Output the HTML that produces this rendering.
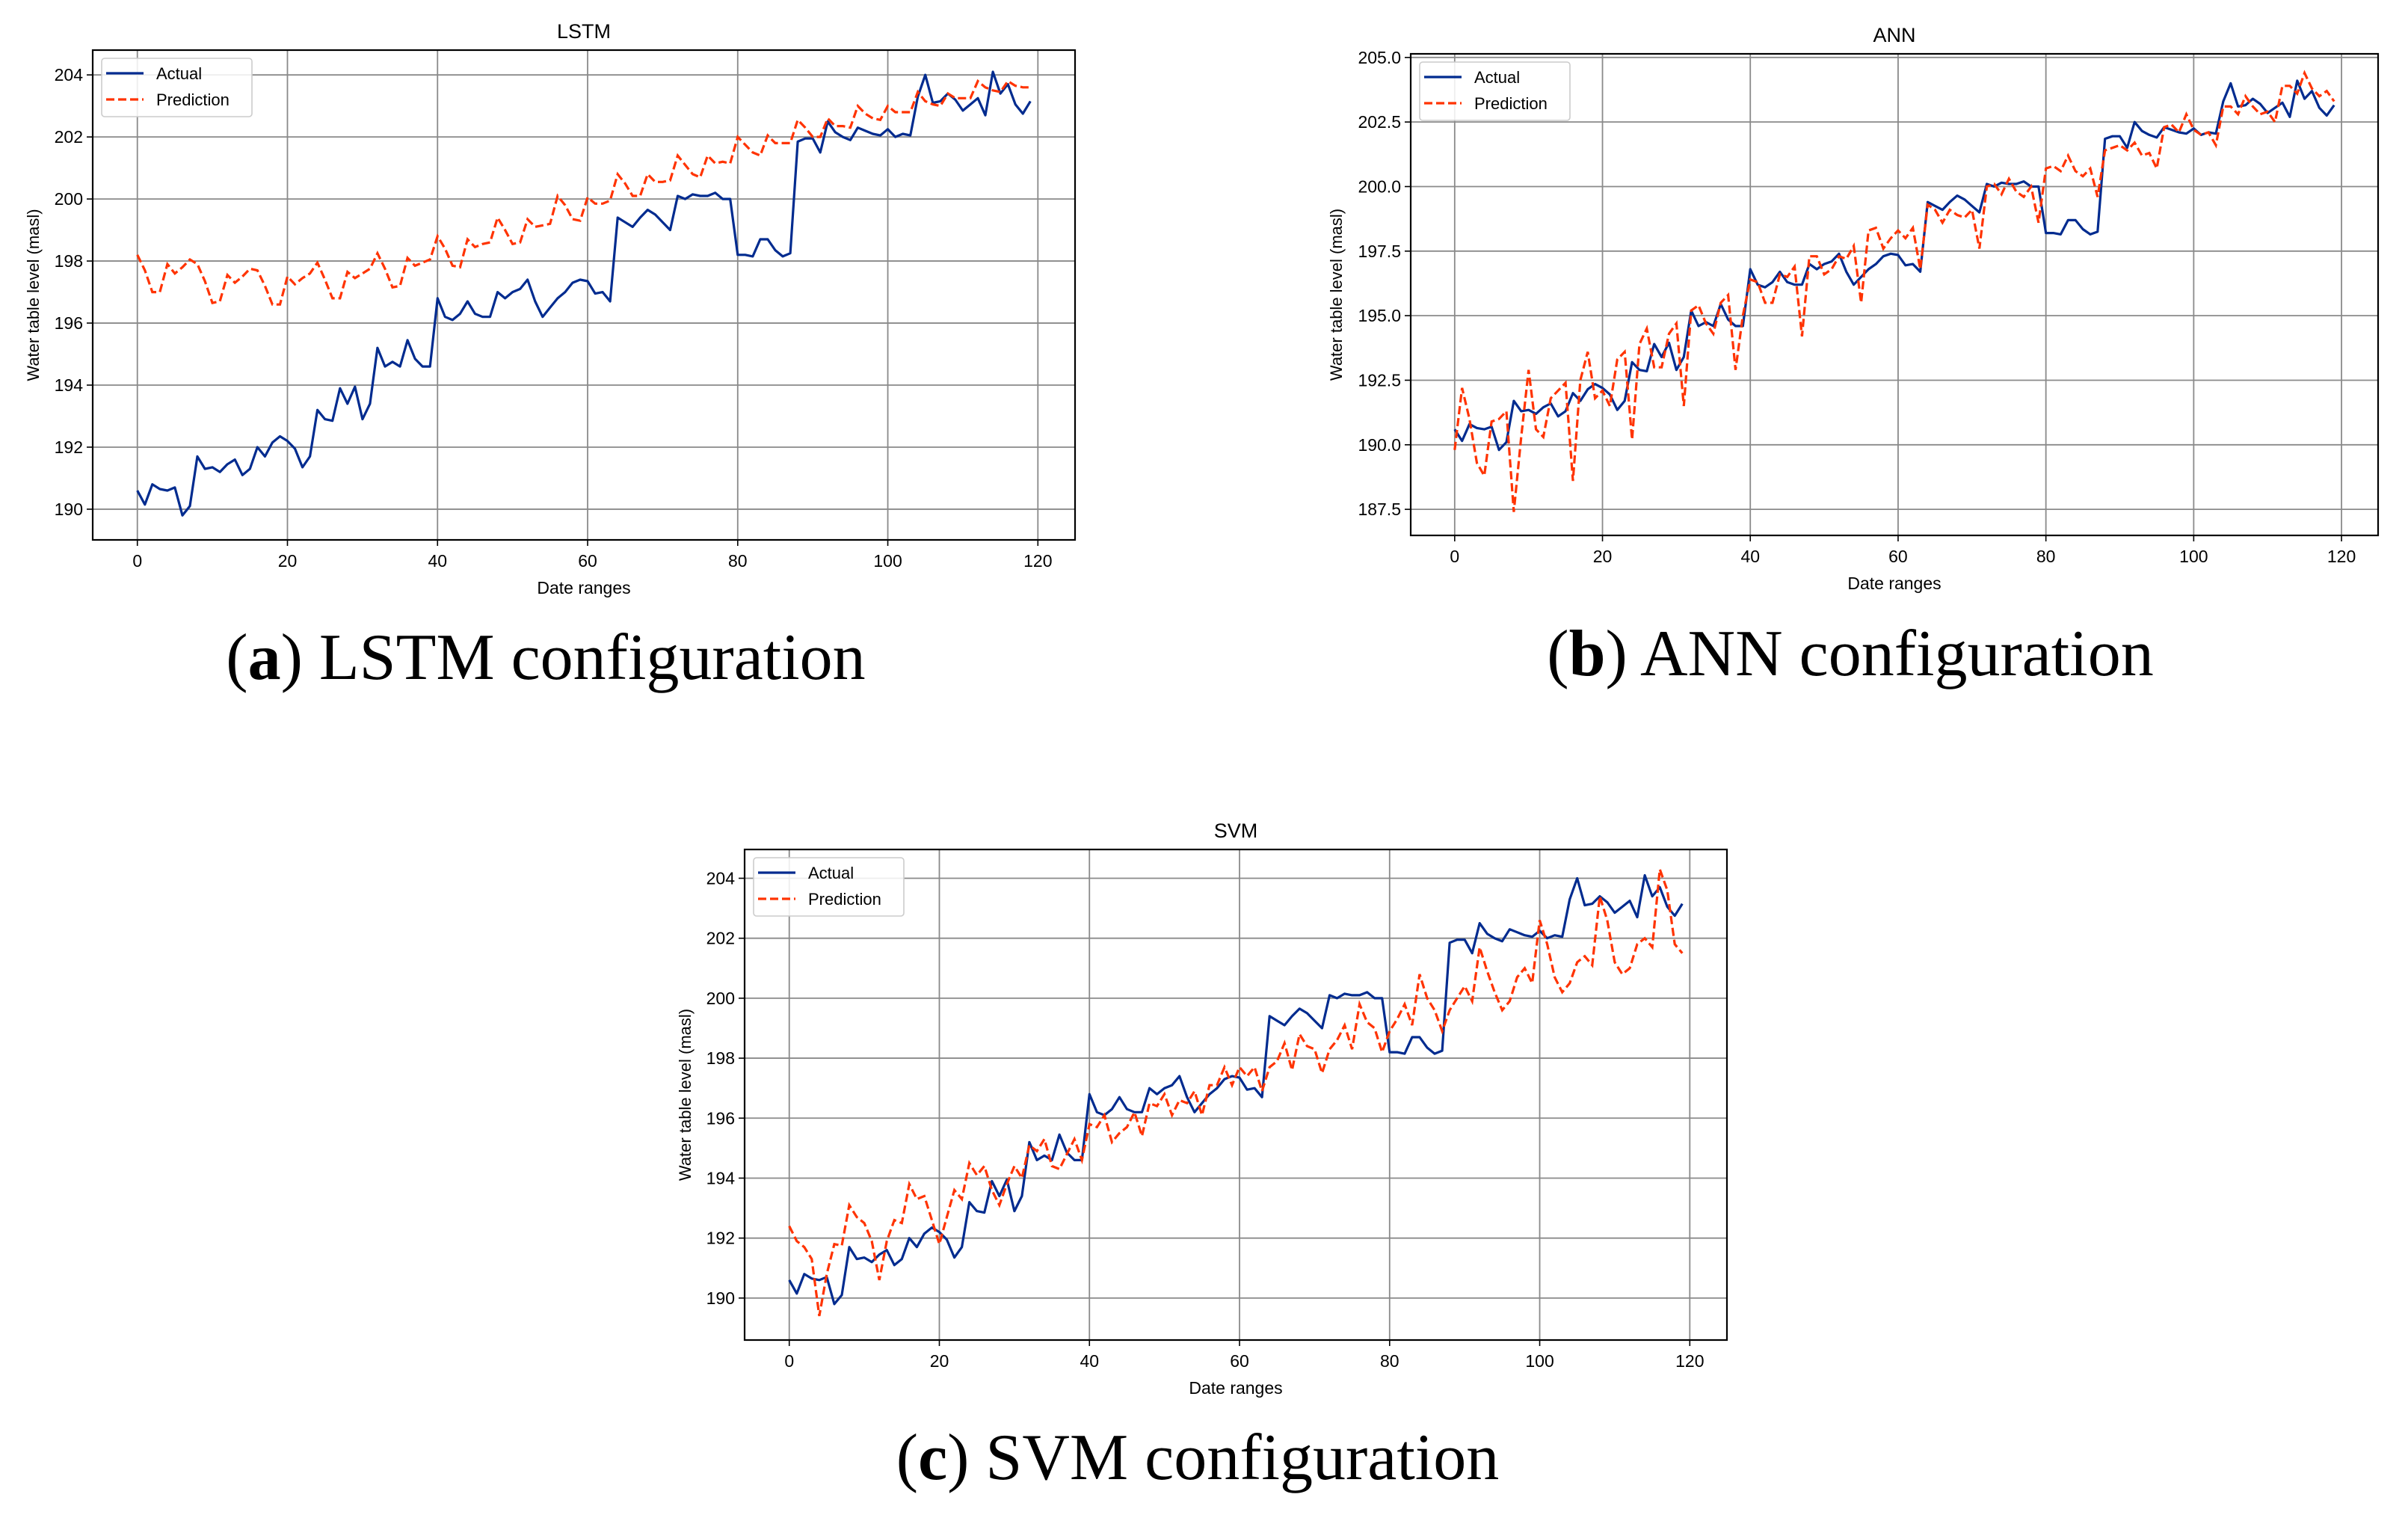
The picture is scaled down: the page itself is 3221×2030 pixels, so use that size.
<!DOCTYPE html>
<html><head><meta charset="utf-8">
<style>
html,body{margin:0;padding:0;background:#fff;}
svg{display:block;}
text{font-family:"Liberation Sans",sans-serif;fill:#000;}
.cap{font-family:"Liberation Serif",serif;font-size:88px;}
</style></head>
<body>
<svg id="fig" width="3221" height="2030" viewBox="0 0 3221 2030" xmlns="http://www.w3.org/2000/svg">
<text class="cap" x="730" y="908" text-anchor="middle">(<tspan font-weight="bold">a</tspan>) LSTM configuration</text>
<text class="cap" x="2475" y="903" text-anchor="middle">(<tspan font-weight="bold">b</tspan>) ANN configuration</text>
<text class="cap" x="1602" y="1978" text-anchor="middle">(<tspan font-weight="bold">c</tspan>) SVM configuration</text>
</svg>
<script>
const xTicks = [0, 20, 40, 60, 80, 100, 120];
const lstmYTicks = [190, 192, 194, 196, 198, 200, 202, 204];
const annYTicks = [187.5, 190.0, 192.5, 195.0, 197.5, 200.0, 202.5, 205.0];
const svmYTicks = [190, 192, 194, 196, 198, 200, 202, 204];
const actual = [190.6,190.15,190.8,190.65,190.6,190.7,189.8,190.1,191.7,191.3,191.35,191.2,191.45,191.6,191.1,191.3,192.0,191.7,192.15,192.35,192.2,191.95,191.35,191.7,193.2,192.9,192.85,193.9,193.4,193.95,192.9,193.4,195.2,194.6,194.75,194.6,195.45,194.85,194.6,194.6,196.8,196.2,196.1,196.3,196.7,196.3,196.2,196.2,197.0,196.8,197.0,197.1,197.4,196.7,196.2,196.5,196.8,197.0,197.3,197.4,197.35,196.95,197.0,196.7,199.4,199.25,199.1,199.4,199.65,199.5,199.25,199.0,200.1,200.0,200.15,200.1,200.1,200.2,200.0,200.0,198.2,198.2,198.15,198.7,198.7,198.35,198.15,198.25,201.85,201.95,201.95,201.5,202.5,202.15,202.0,201.9,202.3,202.2,202.1,202.05,202.25,202.0,202.1,202.05,203.3,204.0,203.1,203.15,203.4,203.2,202.85,203.05,203.25,202.7,204.1,203.4,203.7,203.05,202.75,203.15];
const lstmPred = [198.2,197.7,197.0,197.0,197.9,197.6,197.8,198.05,197.9,197.35,196.65,196.7,197.55,197.3,197.5,197.75,197.7,197.2,196.6,196.6,197.5,197.25,197.45,197.6,197.95,197.4,196.8,196.8,197.65,197.45,197.6,197.75,198.25,197.75,197.15,197.2,198.1,197.85,197.95,198.05,198.8,198.4,197.85,197.8,198.7,198.45,198.55,198.6,199.4,199.0,198.55,198.6,199.35,199.1,199.15,199.2,200.1,199.8,199.35,199.3,200.05,199.85,199.85,199.95,200.8,200.5,200.1,200.1,200.8,200.55,200.55,200.6,201.4,201.1,200.8,200.7,201.4,201.15,201.2,201.15,202.0,201.75,201.5,201.4,202.05,201.8,201.8,201.8,202.55,202.3,202.0,202.0,202.6,202.35,202.35,202.3,203.0,202.75,202.6,202.55,203.0,202.8,202.8,202.8,203.45,203.15,203.05,203.0,203.4,203.25,203.25,203.25,203.8,203.6,203.5,203.45,203.8,203.65,203.6,203.6];
const annPred = [189.8,192.2,191.0,189.3,188.8,190.9,191.0,191.3,187.4,190.3,192.9,190.6,190.3,191.8,192.1,192.4,188.6,192.5,193.6,191.8,192.1,191.5,193.3,193.6,190.2,193.9,194.5,193.0,193.0,194.3,194.7,191.5,195.2,195.4,194.7,194.3,195.5,195.8,192.9,195.0,196.4,196.3,195.5,195.5,196.6,196.5,196.9,194.2,197.3,197.3,196.6,196.8,197.3,197.2,197.7,195.5,198.3,198.4,197.6,198.0,198.3,198.0,198.4,196.8,199.3,199.1,198.6,199.1,198.9,198.8,199.1,197.6,200.0,200.1,199.7,200.3,199.8,199.6,200.0,198.6,200.7,200.8,200.6,201.2,200.6,200.4,200.7,199.6,201.4,201.5,201.6,201.4,201.7,201.2,201.3,200.7,202.3,202.4,202.1,202.8,202.2,202.0,202.1,201.6,203.1,203.1,202.8,203.5,203.1,202.8,202.9,202.5,203.9,203.9,203.6,204.4,203.8,203.5,203.7,203.3];
const svmPred = [192.4,191.9,191.7,191.3,189.4,190.8,191.8,191.75,193.1,192.7,192.5,191.9,190.6,191.9,192.6,192.5,193.8,193.3,193.4,192.6,191.8,192.7,193.6,193.3,194.5,194.1,194.4,193.6,193.1,193.8,194.4,194.0,195.1,194.9,195.3,194.4,194.3,194.8,195.3,194.6,195.8,195.7,196.1,195.2,195.5,195.7,196.2,195.4,196.5,196.4,196.8,196.1,196.6,196.5,196.9,196.1,197.1,197.1,197.7,197.1,197.7,197.4,197.7,196.9,197.7,197.9,198.5,197.6,198.8,198.4,198.3,197.5,198.3,198.6,199.1,198.3,199.8,199.2,199.0,198.2,198.9,199.3,199.8,199.1,200.8,200.0,199.6,198.9,199.6,200.0,200.4,199.9,201.7,200.9,200.2,199.6,199.9,200.7,201.0,200.5,202.6,201.8,200.7,200.2,200.5,201.2,201.4,201.1,203.4,202.6,201.2,200.8,201.0,201.8,202.0,201.7,204.3,203.6,201.8,201.5];

const NS = "http://www.w3.org/2000/svg";
const fig = document.getElementById('fig');
function mk(tag, attrs, parent) {
  const e = document.createElementNS(NS, tag);
  for (const k in attrs) e.setAttribute(k, attrs[k]);
  parent.appendChild(e);
  return e;
}
function drawChart(id, title, box, yMin, yMax, yTicks, yFmt, pred) {
  const g = mk('g', {}, fig);
  
  
  const xMin = -5.95, xMax = 124.95;
  const X = v => box.l + (v - xMin) / (xMax - xMin) * (box.r - box.l);
  const Y = v => box.b - (v - yMin) / (yMax - yMin) * (box.b - box.t);
  xTicks.forEach(t => {
    const gl = mk('line', {x1: X(t), x2: X(t), y1: box.t, y2: box.b, stroke: '#8a8a8a', 'stroke-width': 1.8}, g);
    
    
    const tk = mk('line', {x1: X(t), x2: X(t), y1: box.b, y2: box.b + 8, stroke: '#000', 'stroke-width': 1.6}, g);
    
    
    const tl = mk('text', {x: X(t), y: box.b + 36, 'font-size': 23, 'text-anchor': 'middle'}, g);
    tl.textContent = t;
    
    
  });
  yTicks.forEach(t => {
    const gl = mk('line', {x1: box.l, x2: box.r, y1: Y(t), y2: Y(t), stroke: '#8a8a8a', 'stroke-width': 1.8}, g);
    
    
    const tk = mk('line', {x1: box.l - 8, x2: box.l, y1: Y(t), y2: Y(t), stroke: '#000', 'stroke-width': 1.6}, g);
    
    
    const tl = mk('text', {x: box.l - 13, y: Y(t) + 8, 'font-size': 23, 'text-anchor': 'end'}, g);
    tl.textContent = yFmt(t);
    
    
  });
  const pts = arr => arr.map((v, i) => X(i).toFixed(1) + ',' + Y(v).toFixed(1)).join(' ');
  const la = mk('polyline', {points: pts(actual), fill: 'none', stroke: '#002b8f', 'stroke-width': 3.2, 'stroke-linejoin': 'round'}, g);
  
  
  const lp = mk('polyline', {points: pts(pred), fill: 'none', stroke: '#ff3300', 'stroke-width': 3.2, 'stroke-dasharray': '11,5'}, g);
  
  
  const fr = mk('rect', {x: box.l, y: box.t, width: box.r - box.l, height: box.b - box.t, fill: 'none', stroke: '#000', 'stroke-width': 2.2}, g);
  
  
  const ti = mk('text', {x: (box.l + box.r) / 2, y: box.t - 16, 'font-size': 27, 'text-anchor': 'middle'}, g);
  ti.textContent = title;
  
  
  const xl = mk('text', {x: (box.l + box.r) / 2, y: box.b + 72, 'font-size': 23, 'text-anchor': 'middle'}, g);
  xl.textContent = 'Date ranges';
  
  
  const yx = box.l - (yFmt === fmt1 ? 92 : 72), yy = (box.t + box.b) / 2;
  const yl = mk('text', {x: yx, y: yy, 'font-size': 22, 'text-anchor': 'middle', transform: 'rotate(-90 ' + yx + ' ' + yy + ')'}, g);
  yl.textContent = 'Water table level (masl)';
  
  
  const lx = box.l + 12, ly = box.t + 11;
  const lg = mk('g', {}, g);
  
  
  mk('rect', {x: lx, y: ly, width: 201, height: 78, rx: 4, fill: '#fff', 'fill-opacity': 0.85, stroke: '#cccccc', 'stroke-width': 1.6}, lg);
  mk('line', {x1: lx + 6, x2: lx + 56, y1: ly + 20, y2: ly + 20, stroke: '#002b8f', 'stroke-width': 3.2}, lg);
  mk('line', {x1: lx + 6, x2: lx + 56, y1: ly + 55, y2: ly + 55, stroke: '#ff3300', 'stroke-width': 3.2, 'stroke-dasharray': '11,5'}, lg);
  const t1 = mk('text', {x: lx + 73, y: ly + 28, 'font-size': 22}, lg);
  t1.textContent = 'Actual';
  
  
  const t2 = mk('text', {x: lx + 73, y: ly + 63, 'font-size': 22}, lg);
  t2.textContent = 'Prediction';
  
  
}
const fmt0 = v => String(v);
const fmt1 = v => v.toFixed(1);
drawChart('lstm', 'LSTM', {l: 124, r: 1438, t: 67, b: 722}, 189.01, 204.8, lstmYTicks, fmt0, lstmPred);
drawChart('ann', 'ANN', {l: 1887, r: 3181, t: 72, b: 716}, 186.49, 205.14, annYTicks, fmt1, annPred);
drawChart('svm', 'SVM', {l: 996, r: 2310, t: 1136, b: 1792}, 188.6, 204.96, svmYTicks, fmt0, svmPred);
</script>
</body></html>
